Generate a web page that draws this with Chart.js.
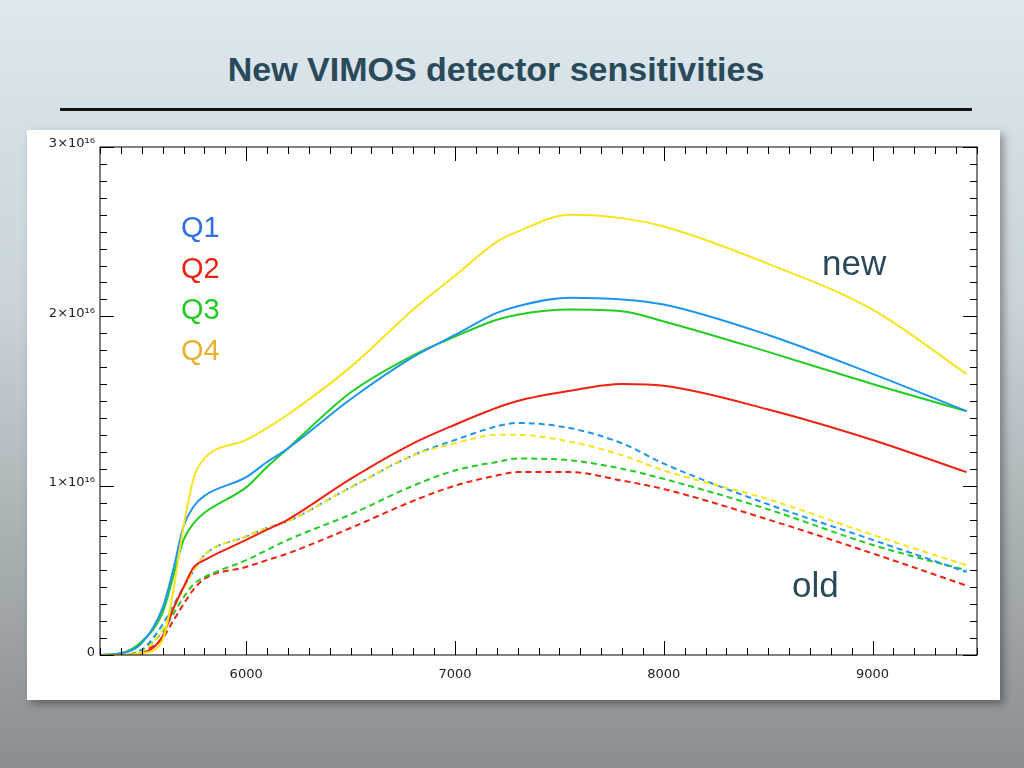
<!DOCTYPE html>
<html><head><meta charset="utf-8">
<script src="https://cdn.jsdelivr.net/npm/chart.js@4"></script>
<style>
html,body{margin:0;padding:0;}
body{width:1024px;height:768px;background:linear-gradient(#dde9ef 0%,#c9d3d8 40%,#8a8e90 100%);position:relative;overflow:hidden;font-family:"Liberation Sans",Arial,sans-serif;}
#title{position:absolute;left:0;width:992px;top:50px;text-align:center;font-weight:bold;font-size:34px;color:#2a4a5a;}
#rule{position:absolute;left:60px;width:912px;top:108px;height:3px;background:#111;}
#panel{position:absolute;left:27px;top:130px;width:973px;height:570px;background:#fff;box-shadow:4px 4px 8px rgba(0,0,0,0.35);}
</style></head><body>
<div id="title">New VIMOS detector sensitivities</div>
<div id="rule"></div>
<div id="panel"><canvas id="c" width="973" height="570"></canvas></div>
<script>
const wavelengths = [5300,5400,5500,5600,5650,5700,5750,5800,6000,6100,6200,6500,6800,7000,7200,7300,7550,7800,8000,8500,9000,9450];
// units of 1e15
const q1New = [0,0.1,0.7,2.8,5.0,7.6,8.8,9.4,10.5,11.4,12.2,15.1,17.6,18.9,20.2,20.6,21.1,21.0,20.7,18.9,16.6,14.4];
const q2New = [0,0,0.1,1.1,2.7,4.0,5.2,5.6,6.8,7.4,8.0,10.4,12.5,13.6,14.6,15.0,15.6,16.0,15.9,14.5,12.7,10.8];
const q3New = [0,0.1,0.8,2.5,4.6,6.8,7.8,8.4,9.9,11.1,12.2,15.5,17.7,18.8,19.8,20.1,20.4,20.3,19.7,17.9,16.0,14.4];
const q4New = [0,0,0.1,0.9,3.7,7.6,10.5,11.6,12.7,13.4,14.2,17.0,20.4,22.4,24.4,25.0,26.0,25.8,25.3,23.1,20.4,16.6];
const q1Old = [0,0,0.3,1.8,2.9,4.0,5.0,5.9,7.0,7.5,7.9,9.9,11.8,12.7,13.5,13.7,13.4,12.5,11.3,8.9,6.8,4.9];
const q2Old = [0,0,0.2,1.0,2.0,3.0,3.9,4.5,5.2,5.6,6.0,7.5,9.1,10.0,10.6,10.8,10.8,10.3,9.8,8.0,6.0,4.1];
const q3Old = [0,0,0.3,1.4,2.4,3.4,4.2,4.6,5.6,6.2,6.8,8.3,10.0,10.9,11.4,11.6,11.5,11.0,10.4,8.6,6.5,5.0];
const q4Old = [0,0,0.2,1.5,2.7,3.9,5.0,5.9,7.0,7.5,7.9,9.9,11.8,12.5,13.0,13.0,12.6,11.8,10.9,9.2,7.1,5.3];
const yTickLabels = ["0","1×10¹⁶","2×10¹⁶","3×10¹⁶"];
const xTickLabels = [6000,7000,8000,9000];

const BLUE="#1e96f0",RED="#ee2211",GREEN="#22cc22",YEL="#f8e41c";
function ds(data,color,dashed){
  return {data:wavelengths.map((x,i)=>({x:x,y:data[i]})),borderColor:color,borderWidth:2,
    borderDash:dashed?[6,4]:[],pointRadius:0,cubicInterpolationMode:'monotone',fill:false};
}
const deco={id:'deco',afterDraw(ch){
  const c=ch.ctx,a=ch.chartArea,xs=ch.scales.x,ys=ch.scales.y;
  c.save();c.strokeStyle='#000';c.lineWidth=1;
  c.strokeRect(a.left,a.top,a.right-a.left,a.bottom-a.top);
  c.beginPath();
  for(let v=5300;v<=9500;v+=100){const p=Math.round(xs.getPixelForValue(v))+0.5;const L=v%1000===0?14:7;
    c.moveTo(p,a.bottom);c.lineTo(p,a.bottom-L);c.moveTo(p,a.top);c.lineTo(p,a.top+L);}
  for(let v=0;v<=30;v+=1){const p=Math.round(ys.getPixelForValue(v))+0.5;const L=v%10===0?14:7;
    c.moveTo(a.left,p);c.lineTo(a.left+L,p);c.moveTo(a.right,p);c.lineTo(a.right-L,p);}
  c.stroke();
  c.fillStyle='#222';c.font='13px "DejaVu Sans"';
  c.textAlign='center';c.textBaseline='top';
  xTickLabels.forEach(v=>c.fillText(String(v),xs.getPixelForValue(v),a.bottom+13));
  c.textAlign='right';c.textBaseline='middle';
  yTickLabels.forEach((t,i)=>c.fillText(t,a.left-5,ys.getPixelForValue(i*10)-(i===0?2:3)));
  c.textAlign='left';c.textBaseline='alphabetic';c.font='29px "Liberation Sans"';
  [["Q1","#2f6fe8"],["Q2",RED],["Q3",GREEN],["Q4","#e8b030"]].forEach((q,i)=>{c.fillStyle=q[1];c.fillText(q[0],154,107+i*41);});
  c.fillStyle='#2a4a5a';c.font='35px "Liberation Sans"';
  c.fillText('new',795,145);c.fillText('old',765,467);
  c.restore();
}};
new Chart(document.getElementById('c'),{type:'line',
  data:{datasets:[ds(q4New,YEL),ds(q1New,BLUE),ds(q3New,GREEN),ds(q2New,RED),
    ds(q4Old,YEL,true),ds(q1Old,BLUE,true),ds(q3Old,GREEN,true),ds(q2Old,RED,true)]},
  options:{responsive:false,animation:false,
    layout:{padding:{left:73,top:17,right:23,bottom:45}},
    plugins:{legend:{display:false},tooltip:{enabled:false}},
    scales:{x:{type:'linear',min:5300,max:9500,display:false},y:{min:0,max:30,display:false}}},
  plugins:[deco]});
</script></body></html>
